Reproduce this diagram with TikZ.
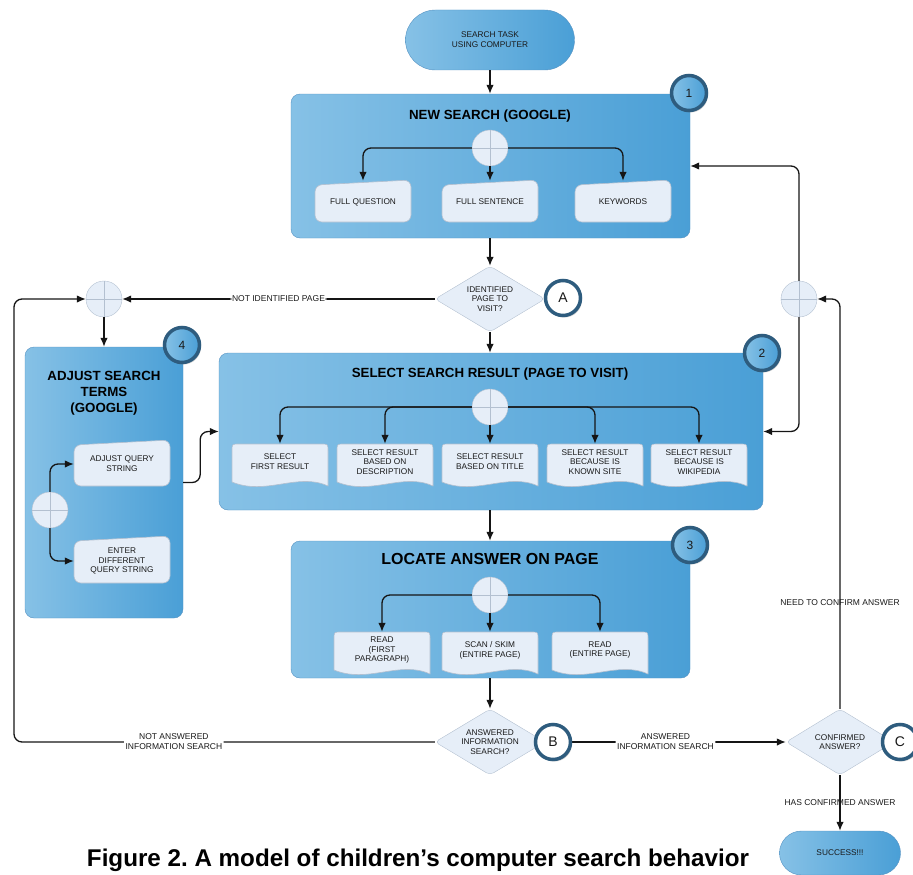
\documentclass[tikz,border=0pt]{standalone}
\usepackage{fontspec}
\setmainfont{Liberation Sans}
\usetikzlibrary{shapes.geometric,shadows,arrows.meta}

\definecolor{boxlight}{HTML}{86C1E6}
\definecolor{boxdark}{HTML}{4A9FD6}
\definecolor{boxedge}{HTML}{5592C2}
\definecolor{subfill}{HTML}{E6EEF8}
\definecolor{subedge}{HTML}{B3C0D0}
\definecolor{badgeedge}{HTML}{2E5C7E}
\definecolor{linecol}{HTML}{151515}

% manual input shape: centre x, centre y, half height
\newcommand{\manualshape}[3]{%
  \filldraw[subshape, rounded corners=7pt]
    ({#1-48},{#2+#3}) -- ({#1-48},{#2-#3+5}) -- ({#1+48},{#2-#3})
    -- ({#1+48},{#2+#3}) -- cycle;}

% document shape with wavy bottom: centre x, top y
\newcommand{\docshape}[2]{%
  \filldraw[subshape]
    ({#1-48},{#2+38}) -- ({#1-48},{#2+7}) .. controls ({#1-48},{#2}) .. ({#1-41},{#2})
    -- ({#1+41},{#2}) .. controls ({#1+48},{#2}) .. ({#1+48},{#2+7})
    -- ({#1+48},{#2+42}) .. controls ({#1+18},{#2+28}) and ({#1-14},{#2+52}) .. ({#1-48},{#2+38})
    -- cycle;}

\begin{document}
\begin{tikzpicture}[
    x=1pt, y=-1pt,
    every node/.style={font=\fontsize{8.3}{9.8}\selectfont, text=black!90, align=center},
    >={Latex[length=9pt,width=7.5pt]},
    conn/.style={->, draw=linecol, line width=1.3pt, rounded corners=8pt},
    bigbox/.style={draw=boxedge, rounded corners=9pt, left color=boxlight, right color=boxdark, inner sep=0pt},
    terminal/.style={draw=boxedge, left color=boxlight, right color=boxdark},
    plus/.style={circle, draw=subedge, fill=subfill, minimum size=36pt, inner sep=0pt,
        path picture={\draw[subedge, line width=0.8pt]
            (path picture bounding box.north) -- (path picture bounding box.south)
            (path picture bounding box.west) -- (path picture bounding box.east);}},
    decision/.style={diamond, draw=subedge, fill=subfill, rounded corners=4pt, aspect=1.6,
        minimum width=110pt, minimum height=66pt, inner sep=0pt, font=\fontsize{8.3}{9.6}\selectfont},
    subshape/.style={draw=subedge, fill=subfill, line width=0.6pt},
    subtext/.style={minimum width=96pt, inner sep=0pt},
    badge/.style={circle, draw=badgeedge, line width=3.5pt, minimum size=35pt, inner sep=0pt,
        font=\fontsize{12}{12}\selectfont,
        drop shadow={opacity=0.35, shadow xshift=1.5pt, shadow yshift=-2pt}},
    numbadge/.style={badge, left color=boxlight, right color=boxdark},
    letterbadge/.style={badge, fill=white, font=\fontsize{14}{14}\selectfont},
    title/.style={font=\bfseries\fontsize{13.3}{16}\selectfont, text=black},
    lbl/.style={font=\fontsize{8.5}{10}\selectfont, inner sep=1.5pt}
]
\useasboundingbox (0,0) rectangle (913,875);

% Start
\node[terminal, rounded corners=30pt, minimum width=169pt, minimum height=60pt]
    (start) at (490,40) {SEARCH TASK\\USING COMPUTER};

% Box 1: new search
\node[bigbox, minimum width=399pt, minimum height=144pt] (box1) at (490.5,166) {};
\node[title] (t1) at (490,116) {NEW SEARCH (GOOGLE)};
\manualshape{363}{201}{21}
\manualshape{490}{201}{21}
\manualshape{623}{201}{21}
\node[subtext, minimum height=42pt] (fq) at (363,202) {FULL QUESTION};
\node[subtext, minimum height=42pt] (fs) at (490,202) {FULL SENTENCE};
\node[subtext, minimum height=42pt] (kw) at (623,202) {KEYWORDS};
\node[plus] (p1) at (490,148) {};

% Decision A
\node[decision] (dA) at (490,299) {IDENTIFIED\\PAGE TO\\VISIT?};

% Box 4: adjust search terms
\node[bigbox, minimum width=158pt, minimum height=271pt] (box4) at (104,482.5) {};
\node[title] (t4) at (104,393) {ADJUST SEARCH\\TERMS\\(GOOGLE)};
\manualshape{122}{463}{23}
\manualshape{122}{559.5}{23.5}
\node[subtext, minimum height=42pt] (aq) at (122,464) {ADJUST QUERY\\STRING};
\node[subtext, minimum height=42pt] (eq) at (122,561) {ENTER\\DIFFERENT\\QUERY STRING};
\node[plus] (p4) at (50,510) {};

% Box 2: select search result
\node[bigbox, minimum width=544pt, minimum height=157pt] (box2) at (491,431.5) {};
\node[title] (t2) at (490,374) {SELECT SEARCH RESULT (PAGE TO VISIT)};
\docshape{280}{444}
\docshape{385}{444}
\docshape{490}{444}
\docshape{595}{444}
\docshape{699}{444}
\node[subtext, minimum height=36pt] (s1) at (280,462) {SELECT\\FIRST RESULT};
\node[subtext, minimum height=36pt] (s2) at (385,462) {SELECT RESULT\\BASED ON\\DESCRIPTION};
\node[subtext, minimum height=36pt] (s3) at (490,462) {SELECT RESULT\\BASED ON TITLE};
\node[subtext, minimum height=36pt] (s4) at (595,462) {SELECT RESULT\\BECAUSE IS\\KNOWN SITE};
\node[subtext, minimum height=36pt] (s5) at (699,462) {SELECT RESULT\\BECAUSE IS\\WIKIPEDIA};
\node[plus] (p2) at (490,407) {};

% Box 3: locate answer
\node[bigbox, minimum width=399pt, minimum height=137pt] (box3) at (490.5,609.5) {};
\node[title, font=\bfseries\fontsize{16}{19}\selectfont] (t3) at (490,559) {LOCATE ANSWER ON PAGE};
\docshape{382}{632}
\docshape{490}{632}
\docshape{600}{632}
\node[subtext, minimum height=36pt] (r1) at (382,650) {READ\\(FIRST\\PARAGRAPH)};
\node[subtext, minimum height=36pt] (r2) at (490,650) {SCAN / SKIM\\(ENTIRE PAGE)};
\node[subtext, minimum height=36pt] (r3) at (600,650) {READ\\(ENTIRE PAGE)};
\node[plus] (p3) at (490,595) {};

% Decisions B and C, end
\node[decision] (dB) at (490,742) {ANSWERED\\INFORMATION\\SEARCH?};
\node[decision, minimum width=108pt] (dC) at (840,742) {CONFIRMED\\ANSWER?};
\node[terminal, rounded corners=22pt, minimum width=121pt, minimum height=44pt]
    (success) at (840,853) {SUCCESS!!!};

% Loop joins
\node[plus] (pl) at (104,299) {};
\node[plus] (pr) at (799,299) {};
\coordinate (lcorner) at (14,742);

% Main flow
\draw[conn] (start.south) -- (box1.north -| start.south);
\draw[conn] (box1.south -| dA.north) -- (dA.north);
\draw[conn] (dA.south) -- (dA.south |- box2.north);
\draw[conn] (box2.south -| p2.south) -- (box3.north -| p2.south);
\draw[conn] (box3.south -| dB.north) -- (dB.north);

% Branches
\draw[conn] (p1.west) -| (fq.north);
\draw[conn] (p1.south) -- (fs.north);
\draw[conn] (p1.east) -| (kw.north);
\draw[conn] (p2.west) -| (s1.north);
\draw[conn] (p2.west) -| (s2.north);
\draw[conn] (p2.south) -- (s3.north);
\draw[conn] (p2.east) -| (s4.north);
\draw[conn] (p2.east) -| (s5.north);
\draw[conn] (p3.west) -| (r1.north);
\draw[conn] (p3.south) -- (r2.north);
\draw[conn] (p3.east) -| (r3.north);
\draw[conn] (p4.north) |- (aq.west);
\draw[conn] (p4.south) |- (eq.west);

% Loops
\draw[conn] (dA.west) -- node[lbl, fill=white] {NOT IDENTIFIED PAGE} (pl.east);
\draw[conn] (pl.south) -- (box4.north);
\draw[conn] (box4.east) -- ++(17,0) |- (box2.west);
\draw[conn] (dB.west) -- node[lbl, fill=white, pos=0.62] {NOT ANSWERED\\INFORMATION SEARCH} (lcorner) |- (pl.west);
\draw[conn] (dB.east) -- node[lbl, fill=white] {ANSWERED\\INFORMATION SEARCH} (dC.west);
\draw[conn] (dC.north) |- node[lbl, pos=0.13] {NEED TO CONFIRM ANSWER} (pr.east);
\draw[conn] (pr.north) |- (box1.east);
\draw[conn] (pr.south) |- (box2.east);
\draw[conn] (dC.south) -- node[lbl] {HAS CONFIRMED ANSWER} (success.north);

% Badges
\node[numbadge] (b1) at (689,93) {1};
\node[numbadge] (b2) at (762,353) {2};
\node[numbadge] (b3) at (690,545) {3};
\node[numbadge] (b4) at (182,345) {4};
\node[letterbadge] (bA) at (563,298) {A};
\node[letterbadge] (bB) at (553,742) {B};
\node[letterbadge] (bC) at (900,742) {C};

% Caption
\node[font=\bfseries\fontsize{24.2}{28}\selectfont, text=black] (caption) at (418,860)
    {\frenchspacing Figure 2. A model of children’s computer search behavior};

\end{tikzpicture}
\end{document}
